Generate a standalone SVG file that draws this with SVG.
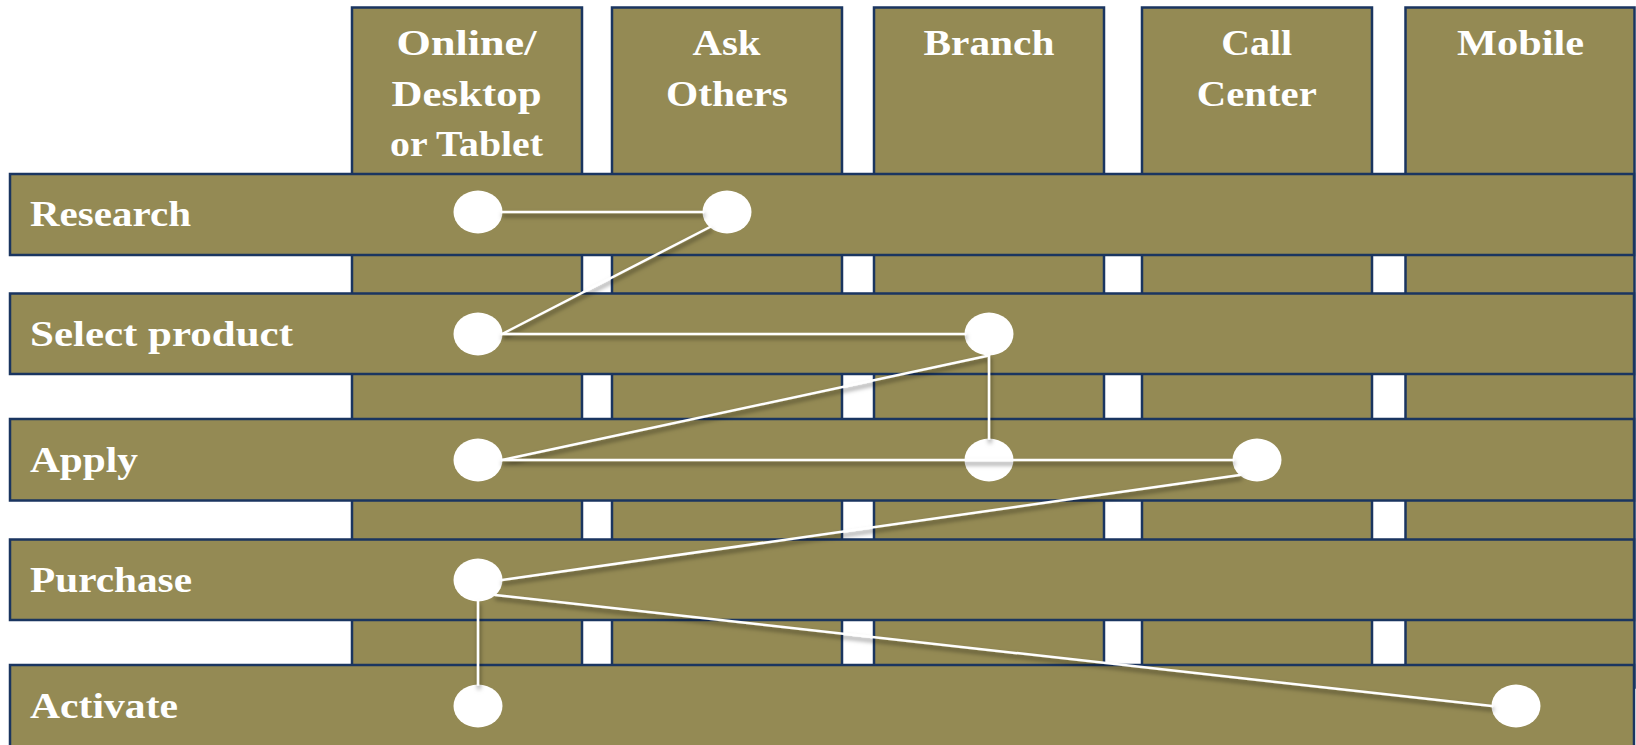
<svg xmlns="http://www.w3.org/2000/svg" width="1636" height="745" viewBox="0 0 1636 745">
  <style>
    .band { fill: #948A54; stroke: #1A3560; stroke-width: 2.5; }
    .lbl { fill: #FFFFFF; font-family: "Liberation Serif", "Times New Roman", serif; font-weight: bold; font-size: 35px; }
    .hdr { text-anchor: middle; }
    .dot { fill: #FFFFFF; }
    .link { stroke: #FFFFFF; stroke-width: 2.5; fill: none; stroke-linecap: round; }
  </style>
  <defs>
    <filter id="shade" x="-20%" y="-50%" width="140%" height="200%">
      <feDropShadow dx="1" dy="3.5" stdDeviation="2" flood-color="#000000" flood-opacity="0.5"/>
    </filter>
  </defs>

  <rect width="1636" height="745" fill="#FFFFFF"/>

  <!-- channel columns (behind the stage bands) -->
  <g id="col-online">
    <rect class="band" x="352" y="7.5" width="230" height="680"/>
    <text class="lbl hdr" x="466.5" y="54.5" textLength="140" lengthAdjust="spacingAndGlyphs">Online/</text>
    <text class="lbl hdr" x="466.5" y="105.5" textLength="150" lengthAdjust="spacingAndGlyphs">Desktop</text>
    <text class="lbl hdr" x="466.5" y="156" textLength="153" lengthAdjust="spacingAndGlyphs">or Tablet</text>
  </g>
  <g id="col-ask">
    <rect class="band" x="612" y="7.5" width="230" height="680"/>
    <text class="lbl hdr" x="726.5" y="54.5" textLength="68" lengthAdjust="spacingAndGlyphs">Ask</text>
    <text class="lbl hdr" x="727" y="105.5" textLength="122" lengthAdjust="spacingAndGlyphs">Others</text>
  </g>
  <g id="col-branch">
    <rect class="band" x="874" y="7.5" width="230" height="680"/>
    <text class="lbl hdr" x="989" y="54.5" textLength="131" lengthAdjust="spacingAndGlyphs">Branch</text>
  </g>
  <g id="col-call">
    <rect class="band" x="1142" y="7.5" width="230" height="680"/>
    <text class="lbl hdr" x="1256.7" y="54.5" textLength="71" lengthAdjust="spacingAndGlyphs">Call</text>
    <text class="lbl hdr" x="1256.8" y="105.5" textLength="120" lengthAdjust="spacingAndGlyphs">Center</text>
  </g>
  <g id="col-mobile">
    <rect class="band" x="1405.5" y="7.5" width="229" height="680"/>
    <text class="lbl hdr" x="1520.5" y="54.5" textLength="127" lengthAdjust="spacingAndGlyphs">Mobile</text>
  </g>

  <!-- stage bands -->
  <g id="row-research">
    <rect class="band" x="10" y="174" width="1624" height="81"/>
    <text class="lbl" x="30" y="226" textLength="161" lengthAdjust="spacingAndGlyphs">Research</text>
  </g>
  <g id="row-select">
    <rect class="band" x="10" y="293.5" width="1624" height="80.5"/>
    <text class="lbl" x="30" y="345.5" textLength="263" lengthAdjust="spacingAndGlyphs">Select product</text>
  </g>
  <g id="row-apply">
    <rect class="band" x="10" y="419" width="1624" height="81.5"/>
    <text class="lbl" x="30" y="471.5" textLength="108" lengthAdjust="spacingAndGlyphs">Apply</text>
  </g>
  <g id="row-purchase">
    <rect class="band" x="10" y="539.5" width="1624" height="80.5"/>
    <text class="lbl" x="30" y="591.5" textLength="162" lengthAdjust="spacingAndGlyphs">Purchase</text>
  </g>
  <g id="row-activate">
    <rect class="band" x="10" y="665" width="1624" height="90"/>
    <text class="lbl" x="30" y="717.5" textLength="148" lengthAdjust="spacingAndGlyphs">Activate</text>
  </g>

  <!-- touchpoints -->
  <g id="dot-research-online"><ellipse class="dot" cx="478" cy="212" rx="24.5" ry="21.5"/></g>
  <g id="dot-research-ask"><ellipse class="dot" cx="727" cy="212" rx="24.5" ry="21.5"/></g>
  <g id="dot-select-online"><ellipse class="dot" cx="478" cy="334" rx="24.5" ry="21.5"/></g>
  <g id="dot-select-branch"><ellipse class="dot" cx="989" cy="334" rx="24.5" ry="21.5"/></g>
  <g id="dot-apply-online"><ellipse class="dot" cx="478" cy="460" rx="24.5" ry="21.5"/></g>
  <g id="dot-apply-branch"><ellipse class="dot" cx="989" cy="460" rx="24.5" ry="21.5"/></g>
  <g id="dot-apply-call"><ellipse class="dot" cx="1257" cy="460" rx="24.5" ry="21.5"/></g>
  <g id="dot-purchase-online"><ellipse class="dot" cx="478" cy="580" rx="24.5" ry="21.5"/></g>
  <g id="dot-activate-online"><ellipse class="dot" cx="478" cy="706" rx="24.5" ry="21.5"/></g>
  <g id="dot-activate-mobile"><ellipse class="dot" cx="1516" cy="706" rx="24.5" ry="21.5"/></g>

  <!-- journey connectors -->
  <g id="connectors" class="link" filter="url(#shade)">
    <line x1="502" y1="212" x2="703" y2="212"/>
    <line x1="710" y1="227" x2="502" y2="334"/>
    <line x1="502" y1="334" x2="965" y2="334"/>
    <line x1="989" y1="355.5" x2="502" y2="460"/>
    <line x1="989" y1="355.5" x2="989" y2="438.5"/>
    <line x1="502" y1="460" x2="1233" y2="460"/>
    <line x1="1240" y1="475" x2="502" y2="580"/>
    <line x1="495" y1="595" x2="1492" y2="706"/>
    <line x1="478" y1="601.5" x2="478" y2="684.5"/>
  </g>
</svg>
